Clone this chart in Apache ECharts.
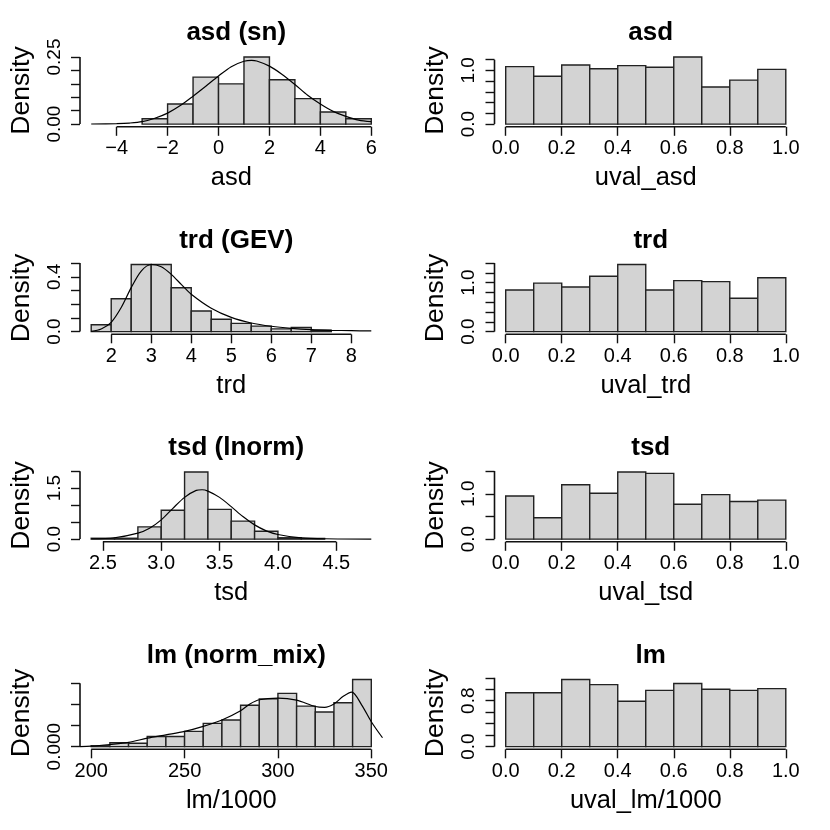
<!DOCTYPE html>
<html>
<head>
<meta charset="utf-8">
<script src="https://cdn.jsdelivr.net/npm/echarts@6/dist/echarts.min.js"></script>
<style>
  html, body { margin: 0; padding: 0; background: #fff; }
  #chart { width: 830px; height: 830px; }
</style>
</head>
<body>
<div id="chart"></div>
<script>
// ---- asd (sn) ----
const asdBreaks = [-3, -2, -1, 0, 1, 2, 3, 4, 5, 6];
const asdDensity = [0.02, 0.075, 0.175, 0.15, 0.25, 0.165, 0.095, 0.045, 0.02];
const asdCurveX = [-5, -4, -3.5, -3, -2.5, -2, -1.5, -1, -0.5, 0, 0.5, 1, 1.3, 1.5, 2, 2.5, 3, 3.5, 4, 4.5, 5, 5.5, 6];
const asdCurveY = [0.0005, 0.002, 0.004, 0.009, 0.022, 0.041, 0.069, 0.104, 0.141, 0.179, 0.214, 0.234, 0.2375, 0.235, 0.216, 0.185, 0.1475, 0.1075, 0.075, 0.0475, 0.029, 0.015, 0.009];
const asdRange = [-5, 6];
const asdXTicks = [-4, -2, 0, 2, 4, 6];
const asdYTicks = [0, 0.05, 0.1, 0.15, 0.2, 0.25];
const asdYLabels = [0, 0.25];

// ---- trd (GEV) ----
const trdBreaks = [1.5, 2, 2.5, 3, 3.5, 4, 4.5, 5, 5.5, 6, 6.5, 7, 7.5];
const trdDensity = [0.05, 0.24, 0.49, 0.49, 0.32, 0.15, 0.09, 0.06, 0.04, 0.02, 0.03, 0.01];
const trdCurveX = [1.5, 1.75, 2, 2.25, 2.5, 2.75, 3, 3.25, 3.5, 3.75, 4, 4.5, 5, 5.5, 6, 6.5, 7, 7.5, 8, 8.5];
const trdCurveY = [0.002, 0.019, 0.068, 0.176, 0.321, 0.442, 0.49, 0.473, 0.418, 0.345, 0.273, 0.171, 0.104, 0.063, 0.039, 0.024, 0.0145, 0.0097, 0.007, 0.005];
const trdRange = [1.5, 8.5];
const trdXTicks = [2, 3, 4, 5, 6, 7, 8];
const trdYTicks = [0, 0.1, 0.2, 0.3, 0.4, 0.5];
const trdYLabels = [0, 0.4];

// ---- tsd (lnorm) ----
const tsdBreaks = [2.4, 2.6, 2.8, 3.0, 3.2, 3.4, 3.6, 3.8, 4.0, 4.2, 4.4];
const tsdDensity = [0.025, 0.025, 0.36, 0.85, 1.975, 0.875, 0.53, 0.23, 0.04, 0.02];
const tsdCurveX = [2.4, 2.6, 2.8, 2.9, 3.0, 3.1, 3.2, 3.3, 3.35, 3.4, 3.5, 3.6, 3.7, 3.8, 3.9, 4.0, 4.2, 4.4, 4.8];
const tsdCurveY = [0.01, 0.04, 0.175, 0.32, 0.565, 0.906, 1.228, 1.433, 1.452, 1.413, 1.228, 0.955, 0.663, 0.419, 0.244, 0.136, 0.039, 0.01, 0];
const tsdRange = [2.4, 4.8];
const tsdXTicks = [2.5, 3, 3.5, 4, 4.5];
const tsdYTicks = [0, 0.5, 1, 1.5, 2];
const tsdYLabels = [0, 1.5];

// ---- lm (norm_mix) ----
const lmBreaks = [200, 210, 220, 230, 240, 250, 260, 270, 280, 290, 300, 310, 320, 330, 340, 350];
const lmDensity = [0.0002, 0.0009, 0.0008, 0.0024, 0.0024, 0.0036, 0.0055, 0.0063, 0.0098, 0.0113, 0.0126, 0.0096, 0.0082, 0.0104, 0.0159];
const lmCurveX = [194, 200, 210, 220, 230, 240, 250, 260, 270, 280, 285, 290, 300, 310, 320, 325, 330, 335, 339.5, 344.8, 350, 356];
const lmCurveY = [0, 0.0001, 0.0005, 0.001, 0.002, 0.0028, 0.0036, 0.0048, 0.0063, 0.0085, 0.0101, 0.0111, 0.0115, 0.011, 0.0095, 0.0093, 0.0101, 0.0119, 0.0129, 0.0099, 0.0059, 0.0021];
const lmRange = [200, 350];
const lmXTicks = [200, 250, 300, 350];
const lmYTicks = [0, 0.005, 0.01, 0.015];
const lmYLabels = [0];

// ---- uniform values (right column) ----
const uBreaks = [0, 0.1, 0.2, 0.3, 0.4, 0.5, 0.6, 0.7, 0.8, 0.9, 1.0];
const uRange = [0, 1];
const uXTicks = [0, 0.2, 0.4, 0.6, 0.8, 1];
const uvalAsdDensity = [1.07, 0.89, 1.1, 1.03, 1.09, 1.06, 1.25, 0.69, 0.82, 1.02];
const uvalTrdDensity = [0.85, 0.99, 0.91, 1.13, 1.37, 0.85, 1.04, 1.02, 0.68, 1.1];
const uvalTsdDensity = [0.95, 0.47, 1.2, 1.01, 1.48, 1.45, 0.77, 0.98, 0.83, 0.86];
const uvalLmDensity = [0.94, 0.94, 1.17, 1.08, 0.79, 0.98, 1.1, 1.0, 0.98, 1.01];
const uvalAsdYTicks = [0, 0.2, 0.4, 0.6, 0.8, 1, 1.2];
const uvalTrdYTicks = [0, 0.2, 0.4, 0.6, 0.8, 1, 1.2, 1.4];
const uvalTsdYTicks = [0, 0.5, 1, 1.5];
const uvalLmYTicks = [0, 0.2, 0.4, 0.6, 0.8, 1, 1.2];

const panels = [
  {title: 'asd (sn)', xName: 'asd', breaks: asdBreaks, density: asdDensity, cx: asdCurveX, cy: asdCurveY, range: asdRange, xTicks: asdXTicks, yTicks: asdYTicks, yLabels: asdYLabels, xd: 0, yd: 2, col: 0, row: 0},
  {title: 'asd', xName: 'uval_asd', breaks: uBreaks, density: uvalAsdDensity, range: uRange, xTicks: uXTicks, yTicks: uvalAsdYTicks, yLabels: [0, 1], xd: 1, yd: 1, col: 1, row: 0},
  {title: 'trd (GEV)', xName: 'trd', breaks: trdBreaks, density: trdDensity, cx: trdCurveX, cy: trdCurveY, range: trdRange, xTicks: trdXTicks, yTicks: trdYTicks, yLabels: trdYLabels, xd: 0, yd: 1, col: 0, row: 1},
  {title: 'trd', xName: 'uval_trd', breaks: uBreaks, density: uvalTrdDensity, range: uRange, xTicks: uXTicks, yTicks: uvalTrdYTicks, yLabels: [0, 1], xd: 1, yd: 1, col: 1, row: 1},
  {title: 'tsd (lnorm)', xName: 'tsd', breaks: tsdBreaks, density: tsdDensity, cx: tsdCurveX, cy: tsdCurveY, range: tsdRange, xTicks: tsdXTicks, yTicks: tsdYTicks, yLabels: tsdYLabels, xd: 1, yd: 1, col: 0, row: 2},
  {title: 'tsd', xName: 'uval_tsd', breaks: uBreaks, density: uvalTsdDensity, range: uRange, xTicks: uXTicks, yTicks: uvalTsdYTicks, yLabels: [0, 1], xd: 1, yd: 1, col: 1, row: 2},
  {title: 'lm (norm_mix)', xName: 'lm/1000', breaks: lmBreaks, density: lmDensity, cx: lmCurveX, cy: lmCurveY, range: lmRange, xTicks: lmXTicks, yTicks: lmYTicks, yLabels: lmYLabels, xd: 0, yd: 3, col: 0, row: 3},
  {title: 'lm', xName: 'uval_lm/1000', breaks: uBreaks, density: uvalLmDensity, range: uRange, xTicks: uXTicks, yTicks: uvalLmYTicks, yLabels: [0, 0.8], xd: 1, yd: 1, col: 1, row: 3}
];

const FONT = "'Liberation Sans', Arial, sans-serif";
const colLeft = [80, 494.5];
const gridW = 302.5, gridH = 72.5, top0 = 54.3, rowStep = 207.5;

const fmt = d => v => (v < 0 ? '\u2212' : '') + Math.abs(v).toFixed(d);

const option = {animation: false, title: [], grid: [], xAxis: [], yAxis: [], series: []};

panels.forEach((p, i) => {
  const left = colLeft[p.col];
  const top = top0 + rowStep * p.row;
  const span = p.range[1] - p.range[0];
  const xMin = p.range[0] - 0.04 * span, xMax = p.range[1] + 0.04 * span;
  const ymax = Math.max(...p.density, ...(p.cy || [0]));
  const yMin = -0.04 * ymax, yMax = 1.04 * ymax;

  option.title.push({
    text: p.title, left: left + gridW / 2, top: top - 39, textAlign: 'center',
    textStyle: {fontFamily: FONT, fontSize: 26, fontWeight: 'bold', color: '#000'}
  });
  option.grid.push({left: left, top: top, width: gridW, height: gridH});
  option.xAxis.push({
    type: 'value', gridIndex: i, min: xMin, max: xMax,
    axisLine: {show: false, onZero: false},
    axisTick: {show: true, customValues: p.xTicks, length: 9, lineStyle: {color: '#111', width: 1.4}},
    axisLabel: {customValues: p.xTicks, formatter: fmt(p.xd), margin: 12, color: '#000', fontSize: 20, fontFamily: FONT},
    splitLine: {show: false},
    name: p.xName, nameLocation: 'middle', nameGap: 38.5,
    nameTextStyle: {fontFamily: FONT, fontSize: 25.5, color: '#000'}
  });
  option.yAxis.push({
    type: 'value', gridIndex: i, min: yMin, max: yMax,
    axisLine: {show: false, onZero: false},
    axisTick: {show: true, customValues: p.yTicks, length: 9, lineStyle: {color: '#111', width: 1.4}},
    axisLabel: {customValues: p.yLabels, formatter: fmt(p.yd), rotate: 90, margin: 16, color: '#000', fontSize: 19, fontFamily: FONT},
    splitLine: {show: false},
    name: 'Density', nameLocation: 'middle', nameGap: 45, nameRotate: 90,
    nameTextStyle: {fontFamily: FONT, fontSize: 26.5, color: '#000'}
  });

  // histogram bars
  const bins = p.density.map((d, k) => [p.breaks[k], p.breaks[k + 1], d]);
  option.series.push({
    type: 'custom', xAxisIndex: i, yAxisIndex: i, silent: true,
    data: bins, encode: {x: [0, 1], y: 2},
    renderItem: (params, api) => {
      const a = api.coord([api.value(0), 0]);
      const b = api.coord([api.value(1), api.value(2)]);
      return {
        type: 'rect',
        shape: {x: a[0], y: b[1], width: b[0] - a[0], height: a[1] - b[1]},
        style: {fill: '#d3d3d3', stroke: '#222', lineWidth: 1.4}
      };
    }
  });

  // fitted density curve
  if (p.cx) {
    option.series.push({
      type: 'line', xAxisIndex: i, yAxisIndex: i, silent: true,
      data: p.cx.map((x, k) => [x, p.cy[k]]),
      showSymbol: false, smooth: 0.3,
      lineStyle: {color: '#000', width: 1.2}
    });
  }

  // R-style axis lines, from first to last tick
  const axisLine = pts => ({
    type: 'line', xAxisIndex: i, yAxisIndex: i, silent: true, clip: false,
    data: pts, showSymbol: false, lineStyle: {color: '#111', width: 1.6}
  });
  option.series.push(axisLine([[p.xTicks[0], yMin], [p.xTicks[p.xTicks.length - 1], yMin]]));
  option.series.push(axisLine([[xMin, p.yTicks[0]], [xMin, p.yTicks[p.yTicks.length - 1]]]));
});

const chart = echarts.init(document.getElementById('chart'));
chart.setOption(option);
</script>
</body>
</html>
